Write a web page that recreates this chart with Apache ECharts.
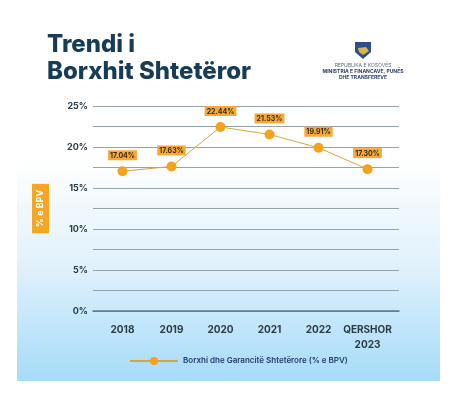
<!DOCTYPE html>
<html><head><meta charset="utf-8">
<script src="https://cdn.jsdelivr.net/npm/echarts@6/dist/echarts.min.js"></script>
<style>html,body{margin:0;padding:0;background:#fff}#c{width:456px;height:396px}</style>
</head><body><div id="c"></div>
<script>
const categories = ['2018', '2019', '2020', '2021', '2022', 'QERSHOR\n2023'];
const debtValues = [17.04, 17.63, 22.44, 21.53, 19.91, 17.30];
const yTicks = [0, 5, 10, 15, 20, 25];
const seriesName = 'Borxhi dhe Garancitë Shtetërore (% e BPV)';
const titleText = 'Trendi i\nBorxhit Shtetëror';
const axisName = '% e BPV';

const chart = echarts.init(document.getElementById('c'), null, {renderer: 'canvas'});
const font = 'Inter, "Noto Sans", sans-serif';
const dark = '#2a3a46';
chart.setOption({
  backgroundColor: '#ffffff',
  graphic: [
    {type: 'rect', z: -10, shape: {x: 17, y: 0, width: 423, height: 381},
      style: {fill: new echarts.graphic.LinearGradient(0, 0, 0, 1, [
        {offset: 0, color: '#ffffff'}, {offset: 0.42, color: '#ffffff'},
        {offset: 0.7, color: '#e0f1fc'}, {offset: 1, color: '#a6dbf8'}])}},
    {type: 'text', left: 47, top: 31, style: {text: titleText, font: '800 24px ' + font, fill: '#163c56', lineHeight: 27}},
    {type: 'polygon', shape: {points: [[355, 42], [371, 42], [371, 52], [363, 59], [355, 52]]}, style: {fill: '#2c4f8c'}},
    {type: 'polygon', shape: {points: [[358, 48], [366, 47], [369, 51], [363, 55], [359, 52]]}, style: {fill: '#d9b54a'}},
    {type: 'text', x: 363, y: 63, style: {text: 'REPUBLIKA E KOSOVËS', font: '5px ' + font, fill: '#5a6a80', align: 'center'}},
    {type: 'text', x: 363, y: 69, style: {text: 'MINISTRIA E FINANCAVE, PUNËS', font: 'bold 5px ' + font, fill: '#2a3e60', align: 'center'}},
    {type: 'text', x: 363, y: 75, style: {text: 'DHE TRANSFEREVE', font: 'bold 5px ' + font, fill: '#2a3e60', align: 'center'}}
  ],
  grid: [
    {left: 93, right: 57, top: 106, bottom: 85},
    {left: 98, width: 294, top: 106, bottom: 85}
  ],
  legend: {
    data: [seriesName], left: 124, top: 352, itemWidth: 48, itemHeight: 10, itemGap: 8,
    textStyle: {color: '#24406a', fontSize: 8, fontFamily: font, fontWeight: 600}
  },
  xAxis: [
    {gridIndex: 0, type: 'value', min: 0, max: 1,
      axisLine: {show: true, lineStyle: {color: '#5f7381', width: 1.5}},
      axisTick: {show: false}, axisLabel: {show: false}, splitLine: {show: false}},
    {gridIndex: 1, type: 'category', data: categories,
      axisLine: {show: false}, axisTick: {show: false},
      axisLabel: {interval: 0, color: dark, fontSize: 10, fontWeight: 'bold', fontFamily: font, margin: 11, lineHeight: 15}}
  ],
  yAxis: [
    {gridIndex: 0, type: 'value', min: 0, max: 25, interval: 2.5,
      name: axisName, nameLocation: 'middle', nameGap: 44,
      nameTextStyle: {color: '#ffffff', backgroundColor: '#f5a623', fontSize: 9, fontWeight: 'bold', fontFamily: font, padding: [4, 6, 4, 6]},
      axisLine: {show: false}, axisTick: {show: false},
      axisLabel: {color: dark, fontSize: 9, fontWeight: 'bold', fontFamily: font, margin: 5,
        formatter: v => yTicks.indexOf(v) >= 0 ? v + '%' : ''},
      splitLine: {lineStyle: {color: '#94a3ad', width: 1}}},
    {gridIndex: 1, type: 'value', min: 0, max: 25, show: false}
  ],
  series: [{
    name: seriesName, type: 'line', xAxisIndex: 1, yAxisIndex: 1, data: debtValues,
    symbol: 'circle', symbolSize: 10, z: 5,
    lineStyle: {color: '#d9a443', width: 1},
    itemStyle: {color: '#f7a21b'},
    label: {show: true, position: 'top', distance: 6, formatter: p => p.value.toFixed(2) + '%',
      backgroundColor: '#f5a93a', color: '#3a2a10', fontSize: 7, fontWeight: 'bold', fontFamily: font, padding: [2, 2, 1, 2]}
  }],
  animation: false
});
</script></body></html>
